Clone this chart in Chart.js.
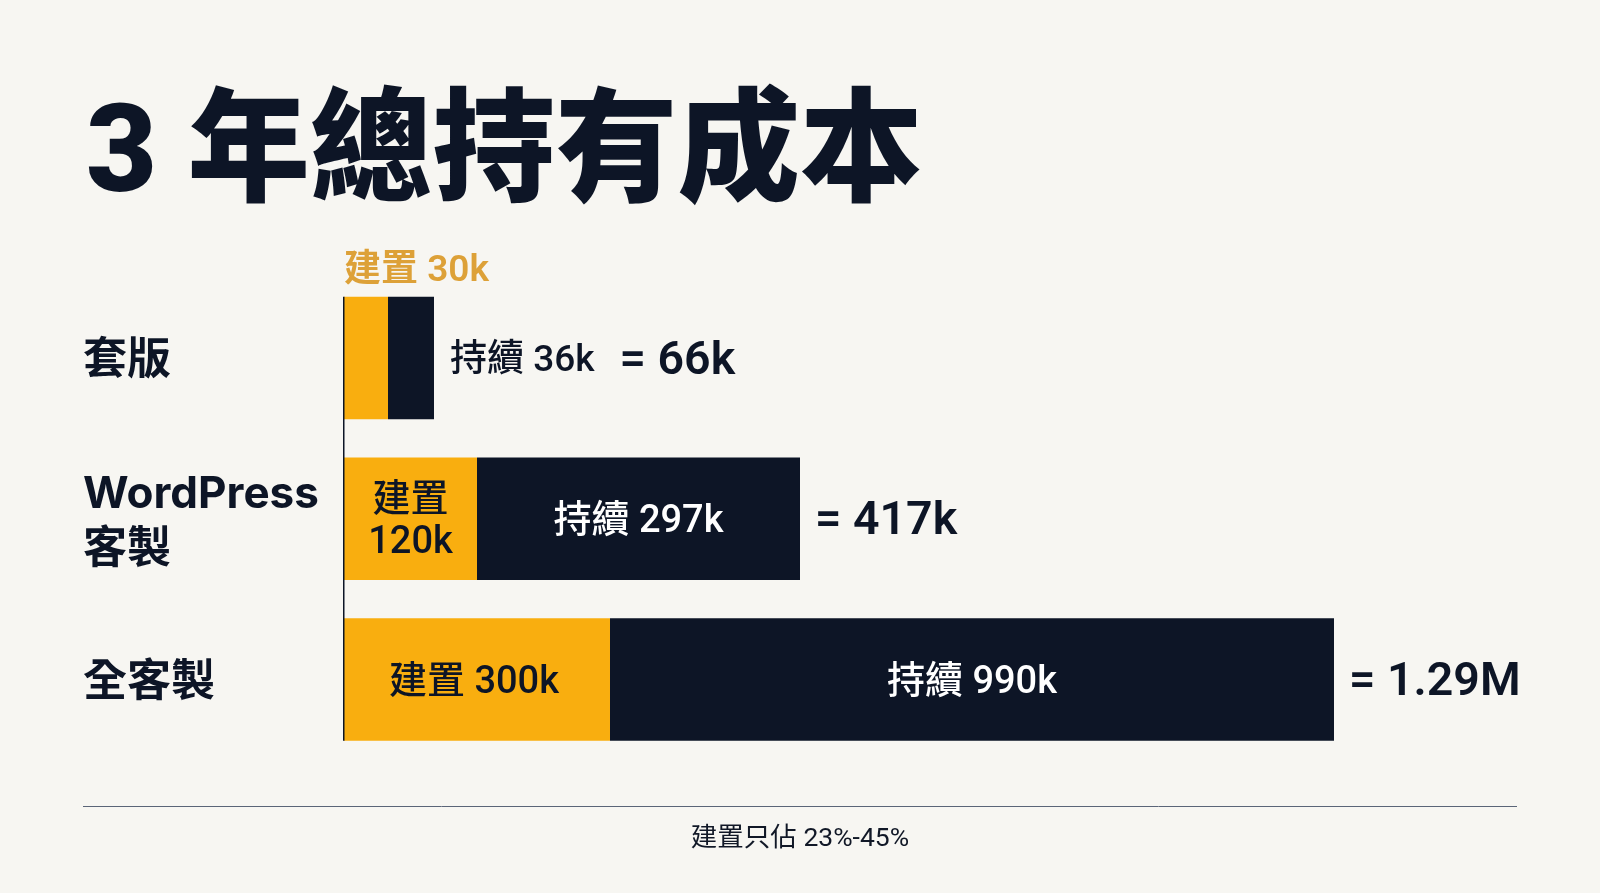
<!DOCTYPE html>
<html lang="zh-Hant">
<head>
<meta charset="utf-8">
<title>3 年總持有成本</title>
<script src="https://cdn.jsdelivr.net/npm/chart.js@4"></script>
<style>
html,body{margin:0;padding:0;background:#F7F6F2;}
canvas{display:block;}
</style>
</head>
<body>
<canvas id="c" width="1600" height="893"></canvas>
<script>
const titleText = '3 年總持有成本';
const categories = [['套版'], ['WordPress', '客製'], ['全客製']];
// The reference's bars are not proportional to their printed figures, so these
// hold the bar lengths; the printed figures are below.
const setupLengths = [44, 133, 266];
const ongoingLengths = [46, 323, 724];
const setupLabels = [['建置 30k'], ['建置', '120k'], ['建置 300k']];
const ongoingLabels = ['持續 36k', '持續 297k', '持續 990k'];
const totalLabels = ['= 66k', '= 417k', '= 1.29M'];
const footerText = '建置只佔 23%-45%';

const NAVY = '#0D1526', AMBER = '#F9AE0F', AMBER_TEXT = '#DDA138';
const FONT = 'Roboto, "Noto Sans CJK TC", sans-serif';
const TEXT_SHIFT = 4;

const annotations = {
  id: 'annotations',
  afterDatasetsDraw(chart) {
    const ctx = chart.ctx;
    const setup = chart.getDatasetMeta(0).data;
    const ongoing = chart.getDatasetMeta(1).data;
    ctx.save();
    ctx.textBaseline = 'middle';

    // Title
    ctx.font = '900 122.5px ' + FONT;
    ctx.fillStyle = NAVY;
    ctx.textAlign = 'left';
    ctx.fillText(titleText, 86, 160);

    // Baseline spanning the first bar's top to the last bar's bottom
    const first = ongoing[0], last = ongoing[ongoing.length - 1];
    ctx.strokeStyle = NAVY;
    ctx.lineWidth = 1.5;
    ctx.beginPath();
    ctx.moveTo(chart.chartArea.left - 0.25, first.y - first.height / 2);
    ctx.lineTo(chart.chartArea.left - 0.25, last.y + last.height / 2);
    ctx.stroke();

    categories.forEach((_, i) => {
      const s = setup[i], o = ongoing[i];
      const inside = o.x - s.x > 150;
      const midY = o.y + TEXT_SHIFT;
      // Setup label
      const lines = setupLabels[i];
      if (s.x - s.base > 80) {
        ctx.font = '500 38px ' + FONT;
        ctx.fillStyle = NAVY;
        ctx.textAlign = 'center';
        const cx = (s.x + s.base) / 2 - (lines.length === 1 ? 3 : 0);
        lines.forEach((t, k) => ctx.fillText(t, cx, midY + (k - (lines.length - 1) / 2) * 42));
      } else {
        ctx.font = '600 37px ' + FONT;
        ctx.fillStyle = AMBER_TEXT;
        ctx.textAlign = 'left';
        ctx.fillText(lines[0], s.base, s.y - s.height / 2 - 29 + TEXT_SHIFT);
      }
      // Ongoing label
      let totalX = o.x + 15;
      if (inside) {
        ctx.font = '500 38px ' + FONT;
        ctx.fillStyle = '#FFFFFF';
        ctx.textAlign = 'center';
        ctx.fillText(ongoingLabels[i], (o.x + o.base) / 2, midY);
      } else {
        ctx.font = '500 37px ' + FONT;
        ctx.fillStyle = NAVY;
        ctx.textAlign = 'left';
        ctx.fillText(ongoingLabels[i], o.x + 16, midY);
        totalX = o.x + 16 + ctx.measureText(ongoingLabels[i]).width + 25;
      }
      // Total label
      ctx.font = '600 46.5px ' + FONT;
      ctx.fillStyle = NAVY;
      ctx.textAlign = 'left';
      ctx.fillText(totalLabels[i], totalX, midY);
    });

    // Footer rule and note
    ctx.strokeStyle = '#5B6578';
    ctx.lineWidth = 1;
    ctx.beginPath();
    ctx.moveTo(83, 806.5);
    ctx.lineTo(1517, 806.5);
    ctx.stroke();
    ctx.font = '400 26.5px ' + FONT;
    ctx.fillStyle = '#111827';
    ctx.textAlign = 'center';
    ctx.fillText(footerText, 800, 839);
    ctx.restore();
  }
};

new Chart(document.getElementById('c'), {
  type: 'bar',
  data: {
    labels: categories,
    datasets: [
      { label: '建置', data: setupLengths, backgroundColor: AMBER },
      { label: '持續', data: ongoingLengths, backgroundColor: NAVY }
    ]
  },
  options: {
    indexAxis: 'y',
    responsive: false,
    animation: false,
    devicePixelRatio: 1,
    layout: { padding: { left: 83, right: 266, top: 277.7, bottom: 133 } },
    datasets: { bar: { barPercentage: 0.762, categoryPercentage: 1, borderWidth: 0 } },
    scales: {
      x: { stacked: true, display: false, min: 0, max: 990 },
      y: {
        stacked: true,
        afterFit(scale) { scale.width = 261; },
        border: { display: false },
        grid: { display: false },
        ticks: {
          crossAlign: 'far',
          padding: 0,
          labelOffset: 3,
          color: NAVY,
          autoSkip: false,
          font: { family: 'Inter, "Noto Sans CJK TC", sans-serif', size: 44, weight: '700', lineHeight: 1.25 }
        }
      }
    },
    plugins: {
      legend: { display: false },
      tooltip: { enabled: false },
      title: { display: false }
    }
  },
  plugins: [annotations]
});
</script>
</body>
</html>
